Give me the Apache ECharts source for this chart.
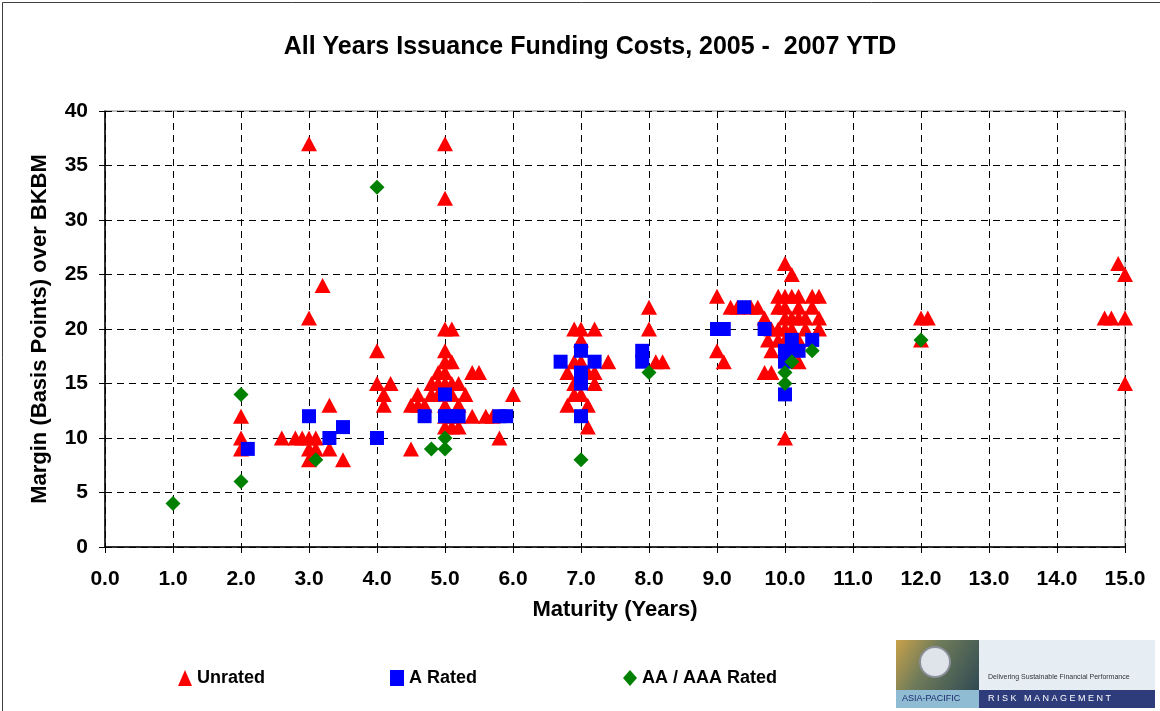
<!DOCTYPE html>
<html>
<head>
<meta charset="utf-8">
<script src="https://cdn.jsdelivr.net/npm/echarts@6/dist/echarts.min.js"></script>
<style>
  html, body { margin: 0; padding: 0; background: #fff; }
  #chart { width: 1160px; height: 711px; }
</style>
</head>
<body>
<div id="chart"></div>
<script>
// [maturity (years), margin (bp)]
const unrated = [
  [2.0, 12], [2.0, 10], [2.0, 9],
  [2.6, 10], [2.8, 10], [2.9, 10], [3.0, 10], [3.0, 9], [3.0, 8], [3.1, 10], [3.1, 9],
  [3.3, 13], [3.3, 9], [3.5, 8], [3.0, 21], [3.0, 37], [3.2, 24],
  [4.0, 18], [4.0, 15], [4.2, 15], [4.1, 14], [4.1, 13], [4.5, 9],
  [4.5, 13], [4.6, 14], [4.6, 13], [4.7, 13], [4.8, 15], [4.8, 14], [4.9, 15], [4.9, 16],
  [5.0, 20], [5.1, 20], [5.0, 18], [5.1, 17], [5.0, 16], [5.0, 17], [5.0, 15], [5.1, 15],
  [5.0, 14], [5.1, 14], [5.2, 15], [5.3, 14], [5.2, 13], [5.0, 13], [5.1, 12], [5.2, 12],
  [5.0, 11], [5.1, 11], [5.2, 11], [5.4, 16], [5.5, 16], [5.4, 12], [5.6, 12], [5.7, 12],
  [6.0, 14], [5.8, 10], [5.0, 37], [5.0, 32], [4.9, 14], [5.0, 12],
  [6.9, 20], [7.0, 20], [7.2, 20], [7.0, 19], [7.4, 17], [6.8, 16], [7.2, 15], [6.8, 13],
  [7.1, 13], [7.1, 11], [6.9, 14], [6.9, 15], [7.0, 17], [7.1, 16], [7.2, 16], [6.9, 17], [7.0, 14],
  [8.0, 22], [8.0, 20], [8.1, 17], [8.2, 17],
  [9.0, 23], [9.2, 22], [9.6, 22], [9.0, 18], [9.1, 17], [9.3, 22], [9.5, 22], [9.7, 21],
  [10.0, 26], [10.1, 25], [9.9, 23], [10.0, 23], [10.1, 23], [10.4, 23], [10.5, 23],
  [9.9, 22], [10.0, 22], [10.2, 22], [10.4, 22], [10.5, 21], [10.0, 21], [10.2, 21],
  [9.8, 20], [9.9, 20], [10.3, 20], [10.5, 20], [9.75, 19], [9.8, 18], [10.2, 17],
  [9.7, 16], [9.8, 16], [10.0, 10], [10.1, 20], [10.0, 20], [10.1, 21], [10.3, 21],
  [9.9, 19], [10.1, 18], [10.2, 19], [10.0, 19], [10.2, 23],
  [12.0, 21], [12.1, 21], [12.0, 19],
  [14.9, 26], [15.0, 25], [14.7, 21], [14.8, 21], [15.0, 21], [15.0, 15]
];

const aRated = [
  [2.1, 9], [3.0, 12], [3.3, 10], [3.5, 11], [4.0, 10], [4.7, 12], [5.0, 14], [5.0, 12],
  [5.1, 12], [5.2, 12], [5.8, 12], [5.9, 12], [6.7, 17], [7.0, 18], [7.2, 17], [7.0, 16],
  [7.0, 15], [7.0, 12], [7.9, 18], [7.9, 17], [9.0, 20], [9.1, 20], [9.4, 22], [9.7, 20],
  [10.1, 19], [10.4, 19], [10.0, 18], [10.2, 18], [10.0, 17], [10.0, 14]
];

const aaRated = [
  [1.0, 4], [2.0, 14], [2.0, 6], [3.1, 8], [4.0, 33], [4.8, 9], [5.0, 10], [5.0, 9],
  [7.0, 8], [8.0, 16], [10.4, 18], [10.1, 17], [10.0, 16], [10.0, 15], [12.0, 19]
];

const font = 'Liberation Sans, Arial, sans-serif';
const legendText = { fontFamily: font, fontSize: 18, fontWeight: 'bold', color: '#000' };
const chart = echarts.init(document.getElementById('chart'));

function legendAt(left, name) {
  return { left: left, top: 664, itemWidth: 14, itemHeight: 16, textStyle: legendText, data: [name] };
}

chart.setOption({
  animation: false,
  title: {
    text: 'All Years Issuance Funding Costs, 2005 -  2007 YTD',
    left: 585,
    textAlign: 'center',
    top: 30,
    textStyle: { fontFamily: font, fontSize: 25, fontWeight: 'bold', color: '#000' }
  },
  legend: [
    legendAt(173, 'Unrated'),
    legendAt(385, 'A Rated'),
    legendAt(618, 'AA / AAA Rated')
  ],
  grid: { left: 105, right: 35, top: 111, bottom: 164, show: true, borderColor: '#808080', borderWidth: 1 },
  xAxis: {
    type: 'value',
    min: 0, max: 15, interval: 1,
    name: 'Maturity (Years)',
    nameLocation: 'middle',
    nameGap: 52,
    nameTextStyle: { fontFamily: font, fontSize: 22, fontWeight: 'bold', color: '#000' },
    axisLine: { show: true, lineStyle: { color: '#000', width: 1.5 } },
    axisTick: { show: true, length: 6, lineStyle: { color: '#000' } },
    axisLabel: {
      fontFamily: font, fontSize: 21, fontWeight: 'bold', color: '#000', margin: 22,
      formatter: v => v.toFixed(1)
    },
    splitLine: { show: true, lineStyle: { color: '#000', type: [7, 5], width: 1 } }
  },
  yAxis: {
    type: 'value',
    min: 0, max: 40, interval: 5,
    name: 'Margin (Basis Points) over BKBM',
    nameLocation: 'middle',
    nameGap: 54,
    nameTextStyle: { fontFamily: font, fontSize: 22, fontWeight: 'bold', color: '#000' },
    axisLine: { show: true, lineStyle: { color: '#000', width: 1.5 } },
    axisTick: { show: true, length: 6, lineStyle: { color: '#000' } },
    axisLabel: { fontFamily: font, fontSize: 21, fontWeight: 'bold', color: '#000', margin: 17 },
    splitLine: { show: true, lineStyle: { color: '#000', type: [7, 5], width: 1 } }
  },
  series: [
    {
      name: 'Unrated', type: 'scatter', symbol: 'triangle', symbolSize: [16, 15],
      itemStyle: { color: '#ff0000', opacity: 1 }, data: unrated, z: 3
    },
    {
      name: 'A Rated', type: 'scatter', symbol: 'rect', symbolSize: 14,
      itemStyle: { color: '#0000ff', opacity: 1 }, data: aRated, z: 4
    },
    {
      name: 'AA / AAA Rated', type: 'scatter', symbol: 'diamond', symbolSize: [15, 15],
      itemStyle: { color: '#008000', opacity: 1 }, data: aaRated, z: 5
    }
  ],
  graphic: [
    // chart area frame
    { type: 'rect', shape: { x: 2.5, y: 2.5, width: 1200, height: 800 }, style: { fill: 'none', stroke: '#404040', lineWidth: 1 }, silent: true },
    // logo
    { type: 'rect', shape: { x: 896, y: 640, width: 83, height: 50 },
      style: { fill: new echarts.graphic.LinearGradient(0, 0, 1, 1, [
        { offset: 0, color: '#c9a24a' }, { offset: 0.4, color: '#6f7b5a' }, { offset: 1, color: '#2f4a52' }]) } },
    { type: 'circle', shape: { cx: 935, cy: 662, r: 15 }, style: { fill: '#dfe3ea', stroke: '#8a8f99', lineWidth: 2 } },
    { type: 'rect', shape: { x: 979, y: 640, width: 176, height: 50 }, style: { fill: '#e6edf3' } },
    { type: 'text', left: 988, top: 674, style: { text: 'Delivering Sustainable Financial Performance', font: '7px ' + font, fill: '#333' } },
    { type: 'rect', shape: { x: 896, y: 690, width: 83, height: 18 }, style: { fill: '#8fbcd2' } },
    { type: 'text', left: 902, top: 694, style: { text: 'ASIA-PACIFIC', font: '9px ' + font, fill: '#1c2a6e' } },
    { type: 'rect', shape: { x: 979, y: 690, width: 176, height: 18 }, style: { fill: '#2e3c7c' } },
    { type: 'text', left: 988, top: 694, style: { text: 'R I S K   M A N A G E M E N T', font: '9px ' + font, fill: '#ffffff' } }
  ]
});
</script>
</body>
</html>
